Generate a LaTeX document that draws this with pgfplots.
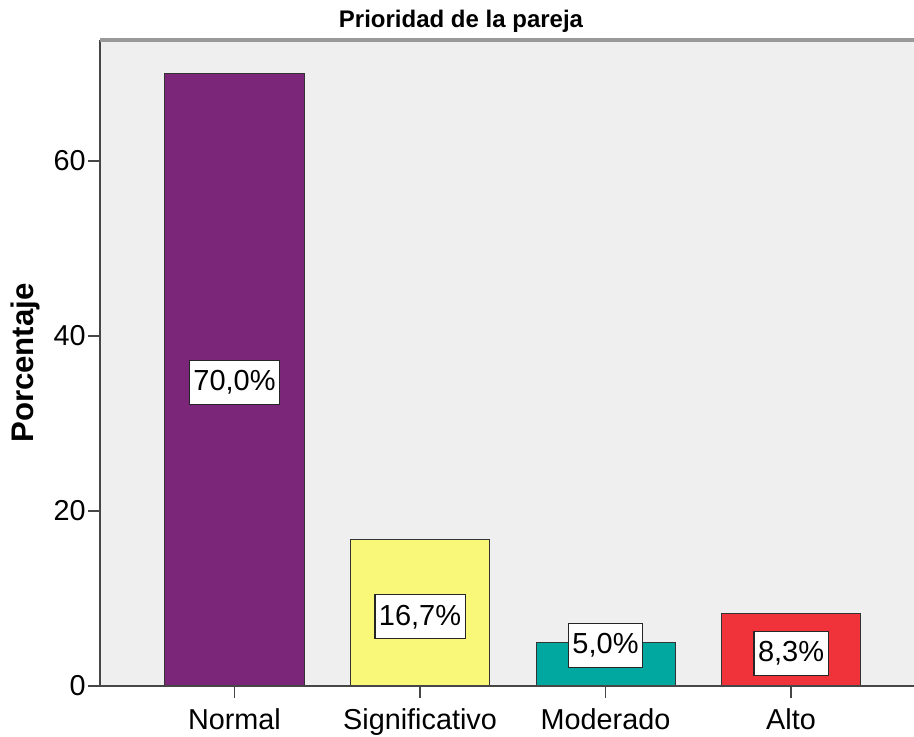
\documentclass[border=0pt]{standalone}
\usepackage{pgfplots}
\pgfplotsset{compat=1.18}
\usepackage{fontspec}
\setmainfont{Liberation Sans}
\definecolor{bgc}{RGB}{239,239,239}
\definecolor{cpurple}{RGB}{123,38,120}
\definecolor{cyellow}{RGB}{250,248,120}
\definecolor{cteal}{RGB}{0,168,160}
\definecolor{cred}{RGB}{240,50,58}
\definecolor{frame}{RGB}{70,70,70}
\begin{document}
\begin{tikzpicture}
\useasboundingbox (0,0) rectangle (457pt,368pt);
\begin{axis}[
  at={(50pt,25pt)}, anchor=south west,
  scale only axis, width=420pt, height=323pt,
  xmin=-0.725, xmax=3.803, ymin=0, ymax=73.83,
  axis background/.style={fill=bgc},
  axis line style={draw=none},
  xtick={0,1,2,3},
  xticklabels={Normal,Significativo,Moderado,Alto},
  ytick={0,20,40,60},
  tick align=outside, major tick length=6pt,
  tick style={draw=frame, line width=0.6pt},
  xtick pos=bottom, ytick pos=left,
  /pgf/number format/assume math mode=true,
  tick label style={font=\fontsize{14.4}{16}\selectfont},
  yticklabel style={inner sep=1pt},
  xticklabel style={yshift=-2pt},
  clip=false,
  after end axis/.code={
    \draw[frame, line width=0.6pt] (rel axis cs:0,0) -- (rel axis cs:0,1);
    \draw[frame, line width=0.6pt] (rel axis cs:0,0) -- (rel axis cs:1,0);
    \draw[gray!80, line width=1.6pt] (rel axis cs:0,1) -- (rel axis cs:1,1);
  },
]
\addplot[ybar, bar width=69.5pt, bar shift=0pt, fill=cpurple, draw=black!80, line width=0.5pt] coordinates {(0,70.0)};
\addplot[ybar, bar width=69.5pt, bar shift=0pt, fill=cyellow, draw=black!80, line width=0.5pt] coordinates {(1,16.7)};
\addplot[ybar, bar width=69.5pt, bar shift=0pt, fill=cteal, draw=black!80, line width=0.5pt] coordinates {(2,5.0)};
\addplot[ybar, bar width=69.5pt, bar shift=0pt, fill=cred, draw=black!80, line width=0.5pt] coordinates {(3,8.3)};
\tikzset{lab/.style={fill=white, draw=black!85, line width=0.6pt, inner xsep=2pt, inner ysep=0pt, minimum height=22pt, font=\fontsize{14.5}{16}\selectfont}}
\node[lab] at (axis cs:0,34.7) {70,0\%};
\node[lab] at (axis cs:1,7.9) {16,7\%};
\node[lab] at (axis cs:2,4.63) {5,0\%};
\node[lab] at (axis cs:3,3.7) {8,3\%};
\end{axis}
\node[font=\bfseries\fontsize{12}{14}\selectfont] at (230.5pt,357.5pt) {Prioridad de la pareja};
\node[rotate=90, font=\bfseries\fontsize{15.6}{17}\selectfont] at (12.5pt,186.5pt) {Porcentaje};
\end{tikzpicture}
\end{document}
